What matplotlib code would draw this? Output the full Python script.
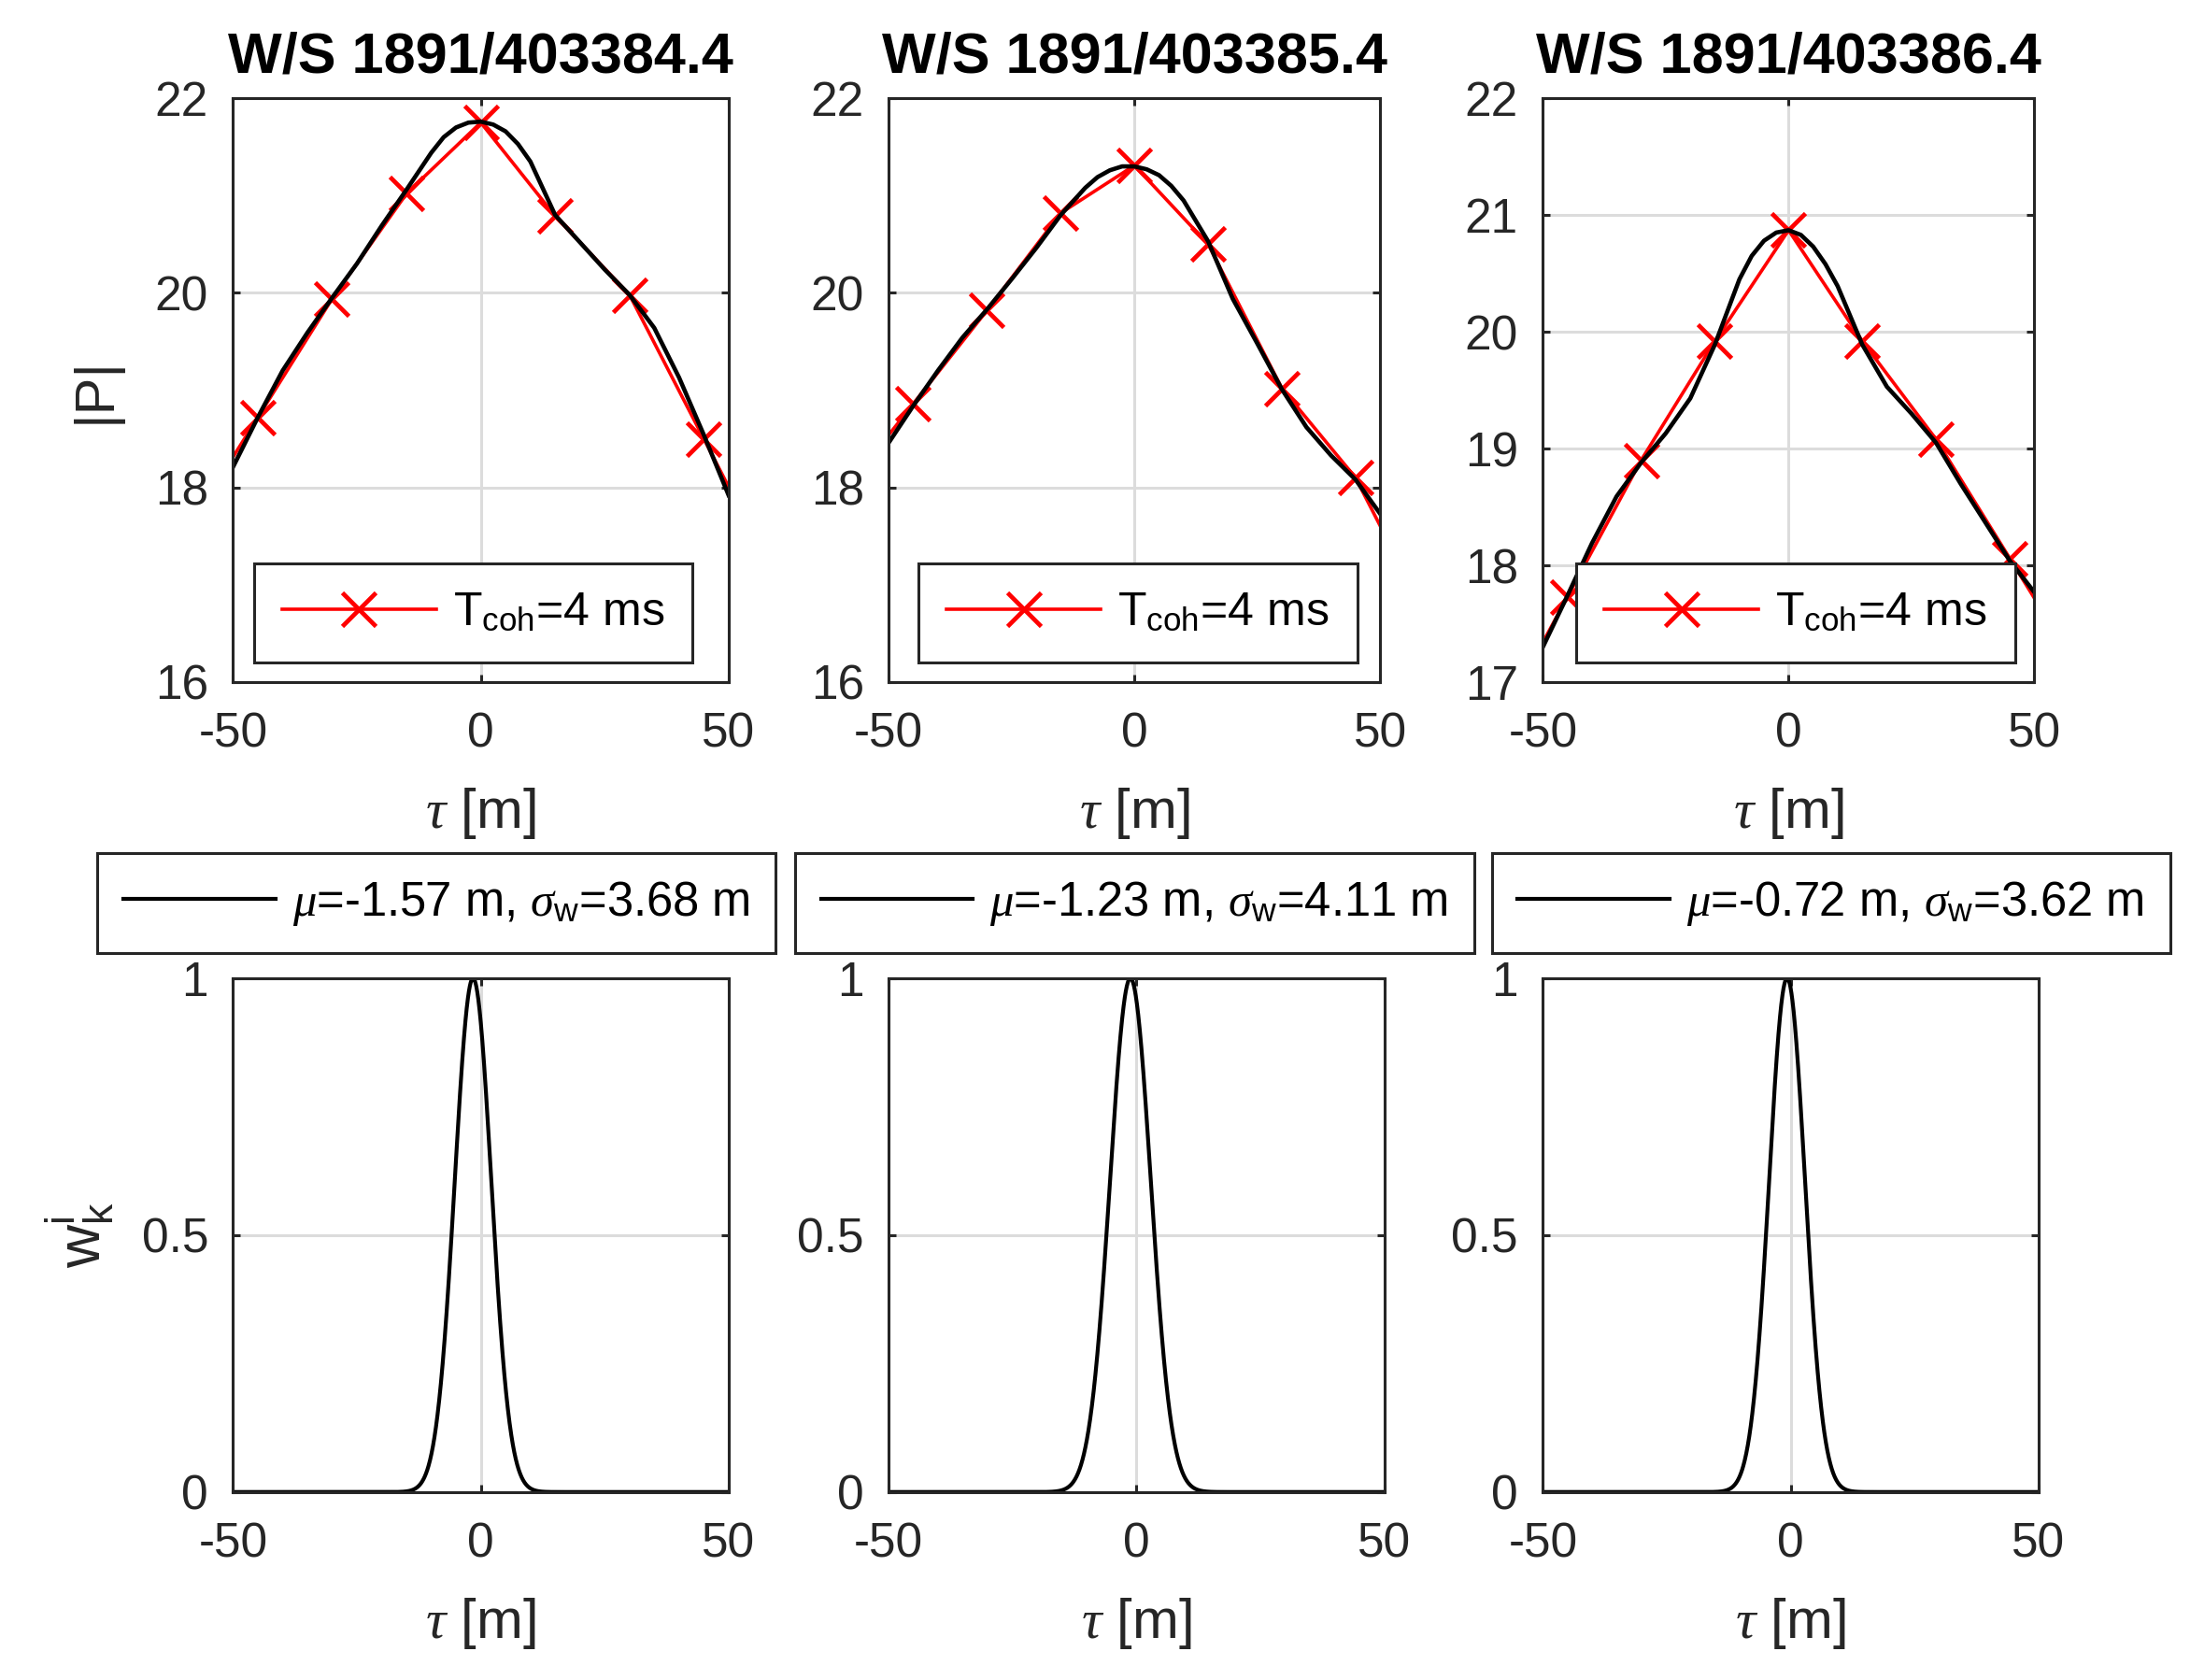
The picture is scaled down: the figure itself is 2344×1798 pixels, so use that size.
import matplotlib
matplotlib.use('Agg')
import matplotlib.pyplot as plt
import numpy as np

plt.rcParams['font.family'] = ['Liberation Sans', 'DejaVu Sans']
plt.rcParams['mathtext.fontset'] = 'custom'
plt.rcParams['mathtext.rm'] = 'Liberation Sans'
plt.rcParams['mathtext.it'] = 'Liberation Serif:italic'
plt.rcParams['mathtext.bf'] = 'Liberation Sans:bold'
plt.rcParams['axes.unicode_minus'] = False

# Data
titles = ['W/S 1891/403384.4', 'W/S 1891/403385.4', 'W/S 1891/403386.4']

# red: coherent samples every 15 m (the outer ones fall outside the window)
tau_coh = [-60, -45, -30, -15, 0, 15, 30, 45, 60]
p_coh_1 = [17.50, 18.72, 19.94, 21.02, 21.75, 20.79, 19.98, 18.50, 17.02]
p_coh_2 = [17.90, 18.86, 19.82, 20.82, 21.31, 20.50, 19.02, 18.10, 16.62]
p_coh_3 = [16.56, 17.73, 18.90, 19.92, 20.87, 19.92, 19.08, 18.06, 17.04]

# black: fine curve read at these delays
tau_fine = [-50, -45, -40, -35, -30, -25, -20, -15, -10, -7.5, -5, -2.5, 0,
            2.5, 5, 7.5, 10, 15, 20, 25, 30, 35, 40, 45, 50]
p_fine_1 = [18.21, 18.72, 19.20, 19.59, 19.95, 20.30, 20.69, 21.06, 21.44, 21.60,
            21.70, 21.75, 21.76, 21.73, 21.66, 21.53, 21.35, 20.80, 20.52, 20.24,
            19.98, 19.64, 19.13, 18.54, 17.92]
p_fine_2 = [18.46, 18.84, 19.20, 19.54, 19.83, 20.14, 20.46, 20.80, 21.08, 21.19,
            21.26, 21.30, 21.30, 21.27, 21.21, 21.10, 20.95, 20.53, 19.94, 19.48,
            19.01, 18.62, 18.33, 18.08, 17.73]
p_fine_3 = [17.30, 17.74, 18.19, 18.59, 18.88, 19.13, 19.43, 19.89, 20.45, 20.65,
            20.78, 20.85, 20.87, 20.83, 20.73, 20.58, 20.39, 19.89, 19.53, 19.30,
            19.05, 18.70, 18.37, 18.04, 17.77]

# Gaussian weights: mean and width from the legends
mu = [-1.57, -1.23, -0.72]
sigma_w = [3.68, 4.11, 3.62]

ylims = [(16, 22), (16, 22), (17, 22)]
yticks = [[16, 18, 20, 22], [16, 18, 20, 22], [17, 18, 19, 20, 21, 22]]

p_coh = [p_coh_1, p_coh_2, p_coh_3]
p_fine = [p_fine_1, p_fine_2, p_fine_3]

fig = plt.figure(figsize=(23.44, 17.98), dpi=100)

top_pos = [[0.1064, 0.5940, 0.2263, 0.3475],
           [0.4058, 0.5940, 0.2244, 0.3475],
           [0.7045, 0.5940, 0.2244, 0.3475]]
bot_pos = [[0.1064, 0.1119, 0.2263, 0.3058],
           [0.4058, 0.1119, 0.2263, 0.3058],
           [0.7045, 0.1119, 0.2263, 0.3058]]
top_leg_x = [0.2160, 0.5196, 0.8199]
bot_leg_x = [0.1994, 0.5180, 0.8360]

dark = '#262626'
grid_c = '#dcdcdc'


def style(ax):
    ax.tick_params(direction='in', length=6, width=2.2, colors=dark,
                   labelsize=37, top=True, right=True)
    ax.tick_params(axis='x', pad=23)
    ax.tick_params(axis='y', pad=19)
    for s in ax.spines.values():
        s.set_linewidth(2.2)
        s.set_color(dark)
    ax.grid(True, color=grid_c, linewidth=2.2)
    ax.set_axisbelow(True)


def frame(leg):
    leg.get_frame().set_edgecolor(dark)
    leg.get_frame().set_linewidth(2.2)


tau = np.linspace(-50, 50, 2001)

for i in range(3):
    ax = fig.add_axes(top_pos[i])
    ax.plot(tau_coh, p_coh[i], color='red', lw=2.6, marker='x', ms=26, mew=3.4,
            label=r'T$_{\mathrm{coh}}$=4 ms')
    ax.plot(tau_fine, p_fine[i], color='black', lw=3.3)
    ax.set_xlim(-50, 50)
    ax.set_ylim(*ylims[i])
    ax.set_xticks([-50, 0, 50])
    ax.set_yticks(yticks[i])
    style(ax)
    ax.set_title(titles[i], fontsize=44, fontweight='bold', pad=20)
    ax.set_xlabel(r'$\tau$ [m]', fontsize=43, color=dark, labelpad=22)
    if i == 0:
        ax.set_ylabel('|P|', fontsize=43, color=dark, labelpad=26)
    leg = ax.legend(loc='center', bbox_to_anchor=(top_leg_x[i], 0.6349),
                    bbox_transform=fig.transFigure, fontsize=36, handlelength=3.3,
                    handletextpad=0.36, borderpad=0.6, borderaxespad=0,
                    fancybox=False, framealpha=1, numpoints=1)
    frame(leg)

    bx = fig.add_axes(bot_pos[i])
    w = np.exp(-(tau - mu[i]) ** 2 / (2 * sigma_w[i] ** 2))
    bx.plot(tau, w, color='black', lw=3.0,
            label=r'$\mu$=%.2f m, $\sigma_{\mathrm{w}}$=%.2f m' % (mu[i], sigma_w[i]))
    bx.set_xlim(-50, 50)
    bx.set_ylim(0, 1)
    bx.set_xticks([-50, 0, 50])
    bx.set_yticks([0, 0.5, 1])
    bx.set_yticklabels(['0', '0.5', '1'])
    style(bx)
    bx.set_xlabel(r'$\tau$ [m]', fontsize=43, color=dark, labelpad=22)
    if i == 0:
        bx.set_ylabel(r'$\mathrm{w}_\mathrm{k}^\mathrm{i}$', fontsize=46, color=dark,
                      labelpad=20)
    leg = bx.legend(loc='center', bbox_to_anchor=(bot_leg_x[i], 0.4624),
                    bbox_transform=fig.transFigure, fontsize=36.5, handlelength=3.2,
                    handletextpad=0.36, borderpad=0.55, borderaxespad=0,
                    fancybox=False, framealpha=1)
    frame(leg)

fig.savefig('out.png', dpi=100)
